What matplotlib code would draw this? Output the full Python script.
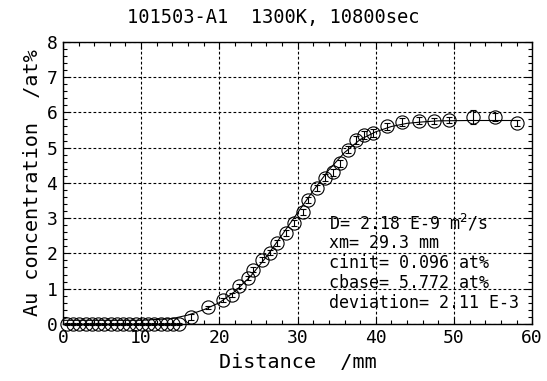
import matplotlib
matplotlib.use('Agg')
import matplotlib.pyplot as plt
from matplotlib.ticker import MultipleLocator

# Данные
dist = [0.5, 1.3, 2.1, 2.9, 3.7, 4.5, 5.3, 6.1, 6.9, 7.7, 8.5, 9.3, 10.1, 10.9,
        11.7, 12.5, 13.3, 14.1, 14.9, 16.4, 18.6, 20.5, 21.6, 22.5, 23.6, 24.3,
        25.4, 26.5, 27.4, 28.5, 29.5, 30.7, 31.3, 32.5, 33.5, 34.5, 35.4, 36.4,
        37.5, 38.5, 39.6, 41.4, 43.3, 45.5, 47.4, 49.4, 52.4, 55.2, 58.1]
conc = [0.0, 0.0, 0.0, 0.0, 0.0, 0.0, 0.0, 0.0, 0.0, 0.0, 0.0, 0.0, 0.0, 0.0,
        0.0, 0.0, 0.0, 0.0, 0.0, 0.2, 0.47, 0.68, 0.82, 1.08, 1.3, 1.53,
        1.82, 2.02, 2.3, 2.58, 2.86, 3.18, 3.52, 3.86, 4.14, 4.3, 4.56, 4.94,
        5.22, 5.36, 5.42, 5.6, 5.73, 5.76, 5.76, 5.79, 5.87, 5.87, 5.7]
err = [0.03] * 19 + [0.08, 0.05, 0.05, 0.05, 0.06, 0.06, 0.07,
                     0.07, 0.07, 0.08, 0.08, 0.08, 0.08, 0.08, 0.09, 0.1, 0.1, 0.1, 0.1,
                     0.12, 0.12, 0.12, 0.1, 0.12, 0.1, 0.08, 0.08, 0.2, 0.12, 0.08]

# Кривая подгонки
fit_x = [0, 10, 14, 16, 18, 20, 22, 24, 26, 28, 30, 32, 34, 36, 38, 40, 42,
         44, 46, 48, 52, 58]
fit_y = [0.10, 0.10, 0.15, 0.25, 0.40, 0.60, 0.92, 1.35, 1.90, 2.52, 3.15,
         3.78, 4.37, 4.86, 5.23, 5.45, 5.60, 5.69, 5.73, 5.76, 5.77, 5.77]

title = '101503-A1  1300K, 10800sec'
info = ['D= 2.18 E-9 m$^2$/s', 'xm= 29.3 mm', 'cinit= 0.096 at%',
        'cbase= 5.772 at%', 'deviation= 2.11 E-3']

plt.rcParams['font.family'] = ['DejaVu Sans Mono', 'DejaVu Sans']
plt.rcParams['mathtext.fontset'] = 'dejavusans'

fig = plt.figure(figsize=(5.47, 3.81), dpi=100)
ax = fig.add_axes([0.115, 0.150, 0.858, 0.740])

ax.plot(fit_x, fit_y, color='black', lw=0.8, zorder=2)
ax.errorbar(dist, conc, yerr=err, fmt='o', ms=9.5, mfc='none', mec='black',
            mew=0.8, ecolor='black', elinewidth=0.8, capsize=2.5, zorder=3,
            clip_on=False)

ax.set_xlim(0, 60)
ax.set_ylim(0, 8)
ax.xaxis.set_major_locator(MultipleLocator(10))
ax.xaxis.set_minor_locator(MultipleLocator(2))
ax.yaxis.set_major_locator(MultipleLocator(1))
ax.yaxis.set_minor_locator(MultipleLocator(0.2))
ax.tick_params(which='both', direction='in', top=True, right=True, labelsize=13,
               width=0.8)
ax.tick_params(which='major', length=5, pad=4)
ax.tick_params(which='minor', length=3)
ax.grid(True, which='major', color='black', linestyle=(0, (2.5, 2)), lw=0.8)
for s in ax.spines.values():
    s.set_linewidth(1.0)

ax.set_xlabel('Distance  /mm', fontsize=14.5, labelpad=4)
ax.set_ylabel('Au concentration  /at%', fontsize=14.5, labelpad=3)
fig.text(0.5, 0.955, title, ha='center', va='center', fontsize=13.5)

for i, line in enumerate(info):
    ax.text(0.567, 0.358 - i * 0.071, line, transform=ax.transAxes,
            ha='left', va='center', fontsize=12)

plt.savefig('out.png', dpi=100)
